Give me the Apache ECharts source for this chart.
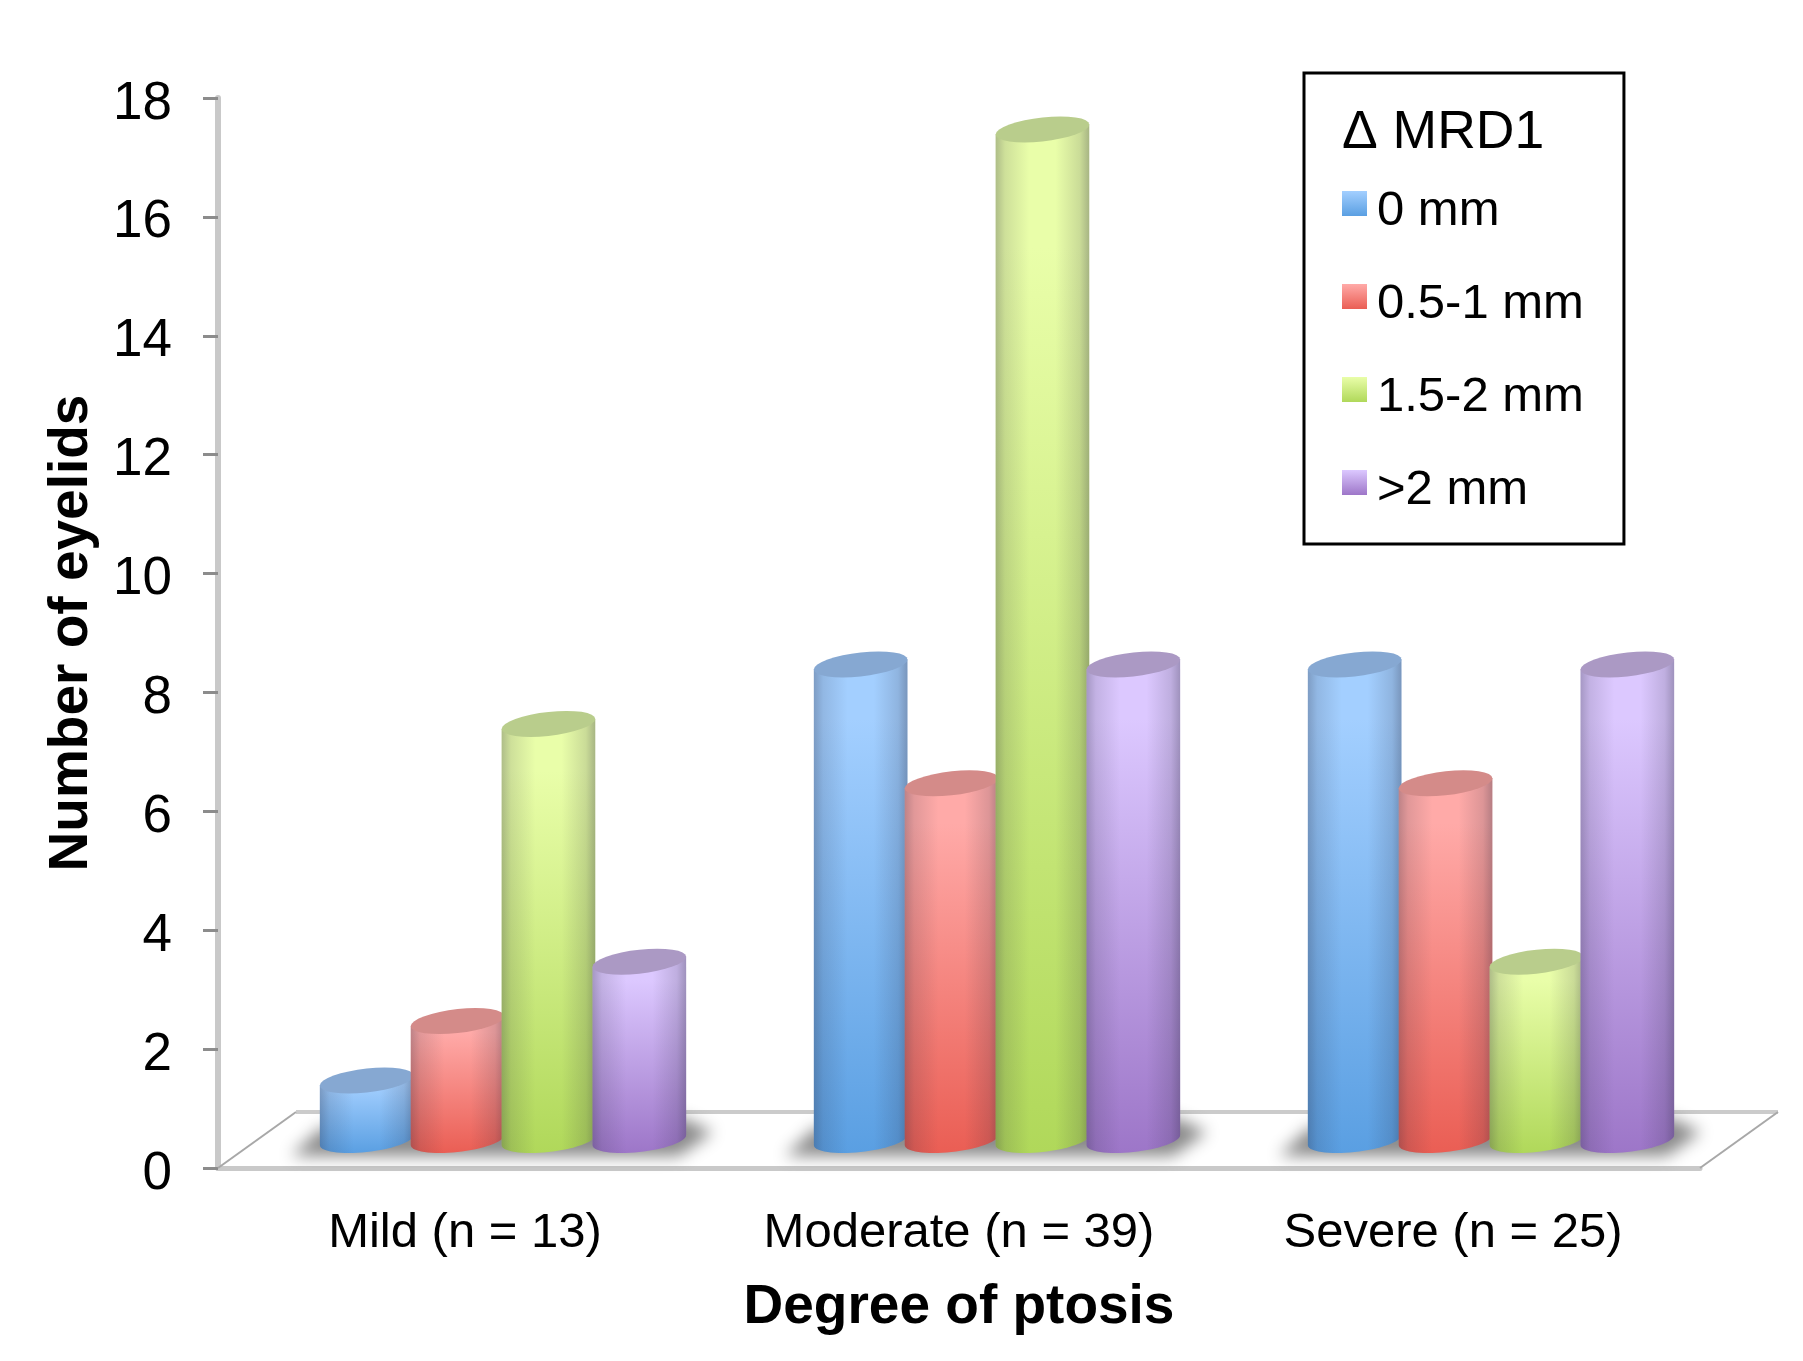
<!DOCTYPE html>
<html>
<head>
<meta charset="utf-8">
<title>Number of eyelids by degree of ptosis</title>
<style>
    html, body { margin: 0; padding: 0; background: #fff; }
    #chart { width: 1803px; height: 1361px; }
</style>
<script src="https://cdn.jsdelivr.net/npm/echarts@6/dist/echarts.min.js"></script>
</head>
<body>
<div id="chart"></div>
<script>
const categories = ['Mild (n = 13)', 'Moderate (n = 39)', 'Severe (n = 25)']
const mm0 = [1, 8, 8]
const mm05to1 = [2, 6, 6]
const mm15to2 = [7, 17, 3]
const mmOver2 = [3, 8, 8]
const seriesNames = ['0 mm', '0.5-1 mm', '1.5-2 mm', '>2 mm']
const seriesValues = [mm0, mm05to1, mm15to2, mmOver2]

// [top of bar, bottom of bar, lid]
const barColors = [
    ['#a3cfff', '#5a9fe2', '#86a8d2'],
    ['#ffaaa8', '#ea5e54', '#d48b89'],
    ['#e9fea9', '#b0d85a', '#b9cd8c'],
    ['#dcc8ff', '#9d76c8', '#ab99c4'],
]

const FONT = '"Liberation Sans", Arial, sans-serif'
const DEPTH_X = 38 // bars stand further back than the axis labels
const DEPTH_Y = 28
const BAR_RATIO = 0.184
const BAR_OVERLAP = 1.03
const RY = 12
const TILT = 5
const OFFSCREEN = 4000

const { LinearGradient } = echarts.graphic

const chart = echarts.init(document.getElementById('chart'))

// sheared ellipse, t from a to b
const arcPoints = (cx, cy, rx, a, b) => {
    const pts = []
    for (let i = 0; i <= 32; i++) {
        const t = a + ((b - a) * i) / 32
        pts.push([cx + rx * Math.cos(t), cy + RY * Math.sin(t) - TILT * Math.cos(t)])
    }
    return pts
}

const renderCylinder = (seriesIndex) => (params, api) => {
    const band = api.size([1, 0])[0]
    const w = band * BAR_RATIO
    const top = api.coord([api.value(0), api.value(1)])
    const base = api.coord([api.value(0), 0])
    const cx = top[0] + DEPTH_X + (seriesIndex - 1.5) * w
    const rx = (w * BAR_OVERLAP) / 2
    const yTop = top[1] - DEPTH_Y
    const yBase = base[1] - DEPTH_Y
    const colors = barColors[seriesIndex]
    // right side down, bottom arc, left side back up
    const body = [[cx + rx, yTop - TILT]].concat(arcPoints(cx, yBase, rx, 0, Math.PI), [[cx - rx, yTop + TILT]])
    return {
        type: 'group',
        children: [
            {
                type: 'polygon',
                shape: { points: body },
                style: { fill: new LinearGradient(0, 0, 0, 1, [
                    { offset: 0, color: colors[0] },
                    { offset: 0.12, color: colors[0] },
                    { offset: 1, color: colors[1] },
                ]) },
            },
            {
                type: 'polygon',
                shape: { points: body },
                style: { fill: new LinearGradient(0, 0, 1, 0, [
                    { offset: 0, color: 'rgba(40,40,60,0.30)' },
                    { offset: 0.1, color: 'rgba(40,40,60,0.14)' },
                    { offset: 0.36, color: 'rgba(40,40,60,0)' },
                    { offset: 0.64, color: 'rgba(40,40,60,0)' },
                    { offset: 0.9, color: 'rgba(40,40,60,0.16)' },
                    { offset: 1, color: 'rgba(40,40,60,0.34)' },
                ]) },
            },
            {
                type: 'polygon',
                shape: { points: arcPoints(cx, yTop, rx, 0, Math.PI * 2) },
                style: { fill: colors[2] },
            },
        ],
    }
}

// blurred shadow under each group of bars: the shape sits off the canvas, only its blur lands on the floor
const renderShadow = (params, api) => {
    const band = api.size([1, 0])[0]
    const w = band * BAR_RATIO
    const p = api.coord([api.value(0), 0])
    const cx = p[0] + DEPTH_X
    const left = cx - 2 * w
    const right = cx + 2 * w
    const y = p[1]
    const offsets = [
        [left - 30, y - 12],
        [right - 6, y - 12],
        [right + 28, y - 36],
        [right - 2, y - 50],
        [left, y - 40],
    ]
    return {
        type: 'polygon',
        shape: { points: offsets.map((pt) => [pt[0] - OFFSCREEN, pt[1]]) },
        style: { fill: '#888', shadowBlur: 16, shadowColor: '#8a8a8a', shadowOffsetX: OFFSCREEN },
    }
}

// floor back edge and diagonals
const renderFloor = (params) => {
    const c = params.coordSys
    const x0 = c.x
    const x1 = c.x + c.width
    const y0 = c.y + c.height
    const dx = 78
    const dy = 56
    return {
        type: 'group',
        children: [
            {
                type: 'line',
                shape: { x1: x0 + dx, y1: y0 - dy, x2: x1 + dx, y2: y0 - dy },
                style: { stroke: '#cbcbcb', lineWidth: 4 },
            },
            {
                type: 'line',
                shape: { x1: x0, y1: y0, x2: x0 + dx, y2: y0 - dy },
                style: { stroke: '#a8a8a8', lineWidth: 2 },
            },
            {
                type: 'line',
                shape: { x1: x1, y1: y0, x2: x1 + dx, y2: y0 - dy },
                style: { stroke: '#a8a8a8', lineWidth: 2 },
            },
        ],
    }
}

const cylinderSeries = seriesNames.map((name, i) => ({
    name,
    type: 'custom',
    coordinateSystem: 'cartesian2d',
    renderItem: renderCylinder(i),
    clip: false,
    z: 5,
    itemStyle: {
        color: new LinearGradient(0, 0, 0, 1, [
            { offset: 0, color: barColors[i][0] },
            { offset: 1, color: barColors[i][1] },
        ]),
    },
    encode: { x: 0, y: 1 },
    data: seriesValues[i].map((v, k) => [k, v]),
}))

const option = {
    animation: false,
    backgroundColor: '#fff',
    title: {
        text: 'Δ MRD1',
        left: 1342,
        top: 106,
        padding: 0,
        textStyle: { fontFamily: FONT, fontSize: 53.5, fontWeight: 'normal', color: '#000' },
    },
    legend: {
        left: 1304,
        top: 73,
        orient: 'vertical',
        align: 'left',
        data: seriesNames.map((name) => ({ name, icon: 'rect' })),
        itemWidth: 25,
        itemHeight: 25,
        itemGap: 28,
        selectedMode: false,
        padding: [98, 40, 29, 38],
        borderColor: '#000',
        borderWidth: 3,
        formatter: (name) => `{a|${name}}`,
        textStyle: {
            rich: {
                // top padding drops the text a little below its swatch
                a: { fontFamily: FONT, fontSize: 49, color: '#000', padding: [16, 0, 0, 5], lineHeight: 55 },
            },
        },
    },
    grid: { left: 218, right: 103, top: 98, bottom: 193 },
    xAxis: {
        type: 'category',
        data: categories,
        axisLine: { lineStyle: { color: '#c9c9c9', width: 5 } },
        axisTick: { show: false },
        axisLabel: { fontFamily: FONT, fontSize: 49, color: '#000', margin: 41, interval: 0 },
        name: 'Degree of ptosis',
        nameLocation: 'middle',
        nameGap: 112,
        nameTextStyle: { fontFamily: FONT, fontSize: 55, fontWeight: 'bold', color: '#000' },
    },
    yAxis: {
        type: 'value',
        min: 0,
        max: 18,
        interval: 2,
        splitLine: { show: false },
        axisLine: { show: true, lineStyle: { color: '#c9c9c9', width: 6 } },
        axisTick: { show: true, length: 15, lineStyle: { color: '#8c8c8c', width: 3 } },
        axisLabel: {
            margin: 46,
            formatter: (v) => `{a|${v}}`,
            rich: {
                a: { fontFamily: FONT, fontSize: 53, color: '#000', padding: [12, 0, 0, 0] },
            },
        },
        name: 'Number of eyelids',
        nameLocation: 'middle',
        nameGap: 119,
        nameTextStyle: { fontFamily: FONT, fontSize: 55, fontWeight: 'bold', color: '#000' },
    },
    series: [
        {
            type: 'custom',
            coordinateSystem: 'cartesian2d',
            renderItem: renderFloor,
            clip: false,
            silent: true,
            z: 1,
            encode: { x: 0 },
            data: [[0]],
        },
        {
            type: 'custom',
            coordinateSystem: 'cartesian2d',
            renderItem: renderShadow,
            clip: false,
            silent: true,
            z: 2,
            encode: { x: 0 },
            data: categories.map((c, k) => [k]),
        },
        ...cylinderSeries,
    ],
}

chart.setOption(option)
</script>
</body>
</html>
